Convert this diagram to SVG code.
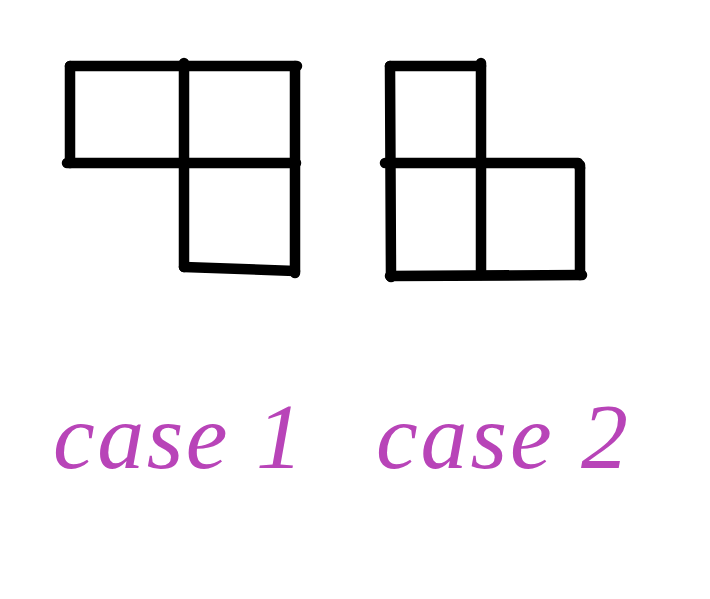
<svg xmlns="http://www.w3.org/2000/svg" width="710" height="599" viewBox="0 0 710 599">
<style>
.ln{stroke:#000;stroke-width:10.5;stroke-linecap:round;stroke-linejoin:round;fill:none}
.lbl{font-family:"Liberation Serif","DejaVu Serif",serif;font-style:italic;font-size:94px;fill:#b844b8}
</style>
<rect width="710" height="599" fill="#fff"/>
<g id="case1">
<g class="ln">
<path d="M70 66 L297 66"/>
<path d="M70 66 L70 163"/>
<path d="M67 163 L296 163"/>
<path d="M184 63 L184 267"/>
<path d="M295 66 L295 273"/>
<path d="M184 267 L295 271"/>
</g>
</g>
<g id="case2">
<g class="ln">
<path d="M390 66 L481 66"/>
<path d="M390 66 L391 277"/>
<path d="M481 63 L481 275"/>
<path d="M385 163 L578 163 L580 168"/>
<path d="M580 165 L580 275"/>
<path d="M390 276 L582 275"/>
</g>
</g>
<text class="lbl" x="53" y="468" textLength="250" lengthAdjust="spacing">case 1</text>
<text class="lbl" x="376" y="468" textLength="252" lengthAdjust="spacing">case 2</text>
</svg>
